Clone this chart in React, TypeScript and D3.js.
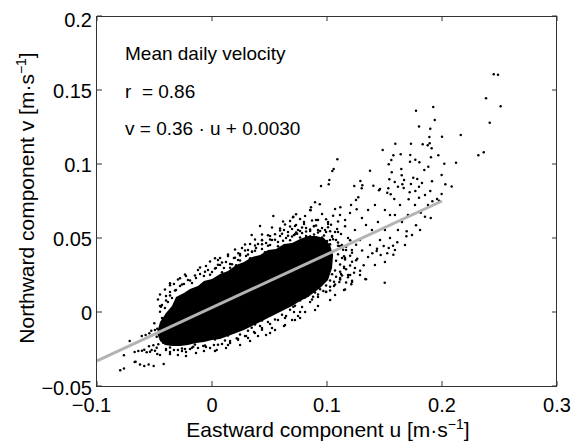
import React from 'react';
import * as d3 from 'd3';

const xTicks = [-0.1, 0, 0.1, 0.2, 0.3];
const xTickLabels = ['−0.1', '0', '0.1', '0.2', '0.3'];
const yTicks = [-0.05, 0, 0.05, 0.1, 0.15, 0.2];
const yTickLabels = ['−0.05', '0', '0.05', '0.1', '0.15', '0.2'];

const fitLine: [number, number][] = [[-0.1, -0.033], [0.2, 0.075]];
const annotations = ['Mean daily velocity', 'r  = 0.86', 'v = 0.36 · u + 0.0030'];

// outline of the region where the daily points overlap into solid black
const denseCore: [number, number][] = [
  [-0.0479, -0.0142], [-0.0452, -0.0068], [-0.04, -0.0007], [-0.0348, 0.0041], [-0.0313, 0.0101], [-0.0244, 0.0128],
  [-0.0191, 0.0155], [-0.0122, 0.0176], [-0.007, 0.021], [0.0, 0.0223], [0.007, 0.0257], [0.0139, 0.0277],
  [0.0209, 0.0318], [0.0278, 0.0338], [0.0348, 0.0372], [0.0418, 0.0385], [0.0487, 0.0419], [0.0557, 0.0426],
  [0.0626, 0.046], [0.0696, 0.0466], [0.0766, 0.0493], [0.0835, 0.0514], [0.0905, 0.0514], [0.0974, 0.05],
  [0.1027, 0.0453], [0.1053, 0.0385], [0.1044, 0.0297], [0.1009, 0.0216], [0.094, 0.0162], [0.0835, 0.0101],
  [0.0766, 0.0074], [0.0696, 0.0041], [0.0626, 0.0014], [0.0557, -0.0014], [0.0487, -0.0041], [0.0418, -0.0068],
  [0.0348, -0.0095], [0.0278, -0.0122], [0.0209, -0.0142], [0.0139, -0.0162], [0.007, -0.0183], [0.0, -0.0189],
  [-0.007, -0.0203], [-0.0139, -0.021], [-0.0209, -0.0223], [-0.0278, -0.023], [-0.0348, -0.023], [-0.0409, -0.0223],
  [-0.0452, -0.0196],
];

const sparsePoints: [number, number][] = [
  [0.245, 0.1606], [0.2487, 0.1603], [0.2383, 0.1444], [0.251, 0.139], [0.1924, 0.1385], [0.2415, 0.1279], [0.1937, 0.1297],
  [0.1898, 0.1239], [0.2163, 0.1196], [0.2, 0.1184], [0.189, 0.1182], [0.1832, 0.1133], [0.1876, 0.1126], [0.1893, 0.114],
  [0.191, 0.1106], [0.2363, 0.1079], [0.2316, 0.1059], [0.1968, 0.1059], [0.1904, 0.1045], [0.2122, 0.1009], [0.202, 0.1002],
  [0.1881, 0.0982], [0.1774, 0.136], [0.18, 0.1253], [0.1484, 0.1095], [0.1594, 0.1137], [0.173, 0.1137], [0.1641, 0.1066],
  [0.1724, 0.1061], [0.1577, 0.1059], [0.1559, 0.1027], [0.1537, 0.0998], [0.1768, 0.1029], [0.1722, 0.1016], [0.1803, 0.1011],
  [0.1846, 0.0959], [0.1563, 0.0944], [0.1646, 0.0966], [0.165, 0.0924], [0.1542, 0.0897], [0.1589, 0.0878], [0.1617, 0.0847],
  [0.1655, 0.0863], [0.173, 0.0865], [0.175, 0.0907], [0.1785, 0.0899], [0.1826, 0.0872], [0.1997, 0.0926], [0.2029, 0.0863],
  [0.2084, 0.0848], [0.18, 0.0847], [0.1768, 0.0818], [0.1898, 0.0818], [0.1997, 0.0797], [0.1461, 0.0831], [0.1524, 0.0806],
  [0.1554, 0.0795], [0.1585, 0.0764], [0.171, 0.0762], [0.18, 0.0772], [0.1957, 0.0764], [0.1916, 0.0748], [0.1815, 0.0671],
  [0.1852, 0.0644], [0.1902, 0.0635], [0.1774, 0.0586], [0.169, 0.0511], [0.1693, 0.0545], [0.1611, 0.0471], [0.1574, 0.0448],
  [0.1537, 0.0432], [0.1577, 0.0387], [0.1467, 0.0385], [0.1493, 0.0446], [0.1435, 0.0428], [0.1394, 0.0397], [0.1357, 0.0372],
  [0.1319, 0.0316], [0.1263, 0.036], [0.1502, 0.0198], [0.1339, 0.0221], [0.1211, 0.0187], [0.1107, 0.0203], [0.0968, 0.0142],
  [0.1122, 0.0257], [0.0635, 0.0032], [0.1374, 0.0955], [0.167, 0.0892], [0.1913, 0.0883], [0.129, 0.0885], [0.1237, 0.0851],
  [0.1307, 0.0856], [0.1403, 0.0853], [0.1533, 0.0836], [0.1667, 0.0838], [0.1719, 0.0809], [0.1974, 0.0752], [0.109, 0.1032],
  [0.1058, 0.0966], [0.1046, 0.0953], [0.102, 0.0892], [0.1015, 0.0863], [0.0948, 0.0851], [0.1302, 0.0836], [0.1452, 0.0822],
  [0.1272, 0.0775], [0.0896, 0.0741], [0.0861, 0.0707], [0.0858, 0.0687], [0.0937, 0.0728], [0.0704, 0.064], [0.107, 0.0696],
  [0.1116, 0.0707], [0.1209, 0.0723], [0.1252, 0.0757], [0.1258, 0.0694], [0.1333, 0.0223], [0.1524, 0.0397], [0.1432, 0.0412],
  [0.1113, 0.0655], [0.1157, 0.0622], [0.12, 0.0669], [0.1304, 0.0635], [0.1339, 0.0588], [0.1391, 0.0554], [0.1443, 0.0608],
  [0.1504, 0.0554], [0.1548, 0.05], [0.1617, 0.0554], [0.1652, 0.0608], [0.1591, 0.0655], [0.1504, 0.0689], [0.1417, 0.0723],
  [0.1357, 0.0689], [0.1243, 0.0554], [0.1183, 0.05], [0.1287, 0.0486], [0.1374, 0.0453], [0.1461, 0.0486], [0.1217, 0.0419],
  [0.113, 0.0453], [0.107, 0.0541], [0.1009, 0.0608], [0.0983, 0.0554], [0.0922, 0.0622], [0.1026, 0.0486], [0.1157, 0.0365],
  [0.1243, 0.0297], [0.1183, 0.025], [0.1287, 0.025], [0.1417, 0.0318], [0.1504, 0.0338], [0.1591, 0.0419], [0.1678, 0.0453],
  [0.1739, 0.052], [0.1809, 0.0554], [0.1704, 0.0655], [0.1765, 0.0723], [0.1878, 0.0723], [0.1852, 0.0791], [0.1635, 0.0723],
  [0.1548, 0.0655], [0.0533, 0.0649], [0.0707, 0.0644], [0.0418, 0.0581], [0.0345, 0.0521], [0.0026, 0.0363], [0.0229, 0.0397],
  [-0.0365, 0.0194], [-0.0278, 0.0228], [0.0853, 0.069],
];

const semiDensePoints: [number, number][] = [
  [0.0731, 0.066], [0.0809, 0.0649], [0.0957, 0.0662], [0.1053, 0.0651],
  [0.0679, 0.0615], [0.0766, 0.0628], [0.087, 0.0618], [0.0992, 0.0626], [0.1096, 0.0612],
  [0.0635, 0.0592], [0.0722, 0.0581], [0.08, 0.0595], [0.0905, 0.0584], [0.1035, 0.059], [0.1157, 0.058],
  [0.0592, 0.055], [0.0696, 0.0561], [0.0766, 0.0548], [0.0853, 0.0558], [0.094, 0.0547], [0.1088, 0.056],
  [0.0548, 0.0525], [0.0661, 0.0516], [0.074, 0.0528], [0.0818, 0.0514], [0.0887, 0.0524], [0.0974, 0.0517], [0.1122, 0.0527],
  [0.0505, 0.049], [0.0618, 0.0482], [0.0922, 0.0493], [0.1001, 0.048], [0.1053, 0.0491], [0.1201, 0.0484],
  [0.0435, 0.0458], [0.094, 0.0449], [0.1027, 0.0457], [0.1096, 0.0447], [0.1253, 0.0455],
  [0.0374, 0.0414], [0.0983, 0.0423], [0.1061, 0.0412], [0.114, 0.0421], [0.1305, 0.0416],
  [0.0313, 0.0389], [0.1009, 0.0381], [0.1096, 0.039], [0.1201, 0.038],
  [0.0244, 0.0348], [0.1027, 0.0356], [0.1079, 0.0346], [0.1157, 0.0355], [0.1253, 0.0349],
  [0.0174, 0.0322], [0.1009, 0.0313], [0.1114, 0.0321], [0.1201, 0.0314],
  [0.0992, 0.0288], [0.107, 0.028], [0.1166, 0.0289], [0.1288, 0.0279],
  [0.0974, 0.0246], [0.1044, 0.0255], [0.1131, 0.0247],
  [0.094, 0.022], [0.1027, 0.0212], [0.1114, 0.0219], [0.1218, 0.0211],
  [0.0896, 0.0187], [0.0992, 0.0179], [0.107, 0.0186],
  [0.087, 0.0145], [0.094, 0.0153], [0.1027, 0.0146], [0.1157, 0.0152],
  [0.0766, 0.0119], [0.0835, 0.0111], [0.0922, 0.0118],
  [0.0679, 0.0085], [0.0766, 0.0077], [0.087, 0.0084],
  [0.0609, 0.005], [0.0722, 0.0043],
  [0.0505, 0.0017], [0.0574, 0.001], [0.0679, 0.0016],
  [0.0418, -0.0016], [0.0505, -0.0024], [0.0609, -0.0018],
  [0.0331, -0.005], [0.0435, -0.0058], [0.0548, -0.0051],
  [0.0287, -0.0092], [0.0374, -0.0085],
  [0.0209, -0.0119], [0.0313, -0.0126], [0.0435, -0.012],
  [0.0139, -0.0158], [0.0244, -0.0152],
  [0.0026, -0.0186], [0.0113, -0.0193], [0.0226, -0.0187],
  [-0.0148, -0.022], [-0.0061, -0.0227], [0.0052, -0.0221],
  [-0.0365, -0.024], [-0.0261, -0.0246], [-0.0174, -0.0241],
  [0.0679, 0.0578], [0.0783, 0.0571], [0.0887, 0.0579], [0.1009, 0.0572],
  [0.0731, 0.0537], [0.0818, 0.0544], [0.0922, 0.0538], [0.1027, 0.0545],
  [0.0696, 0.051], [0.0766, 0.0503], [0.0853, 0.0511], [0.0957, 0.0504], [0.1044, 0.0509],
  [0.1096, 0.0469], [0.1166, 0.0441], [0.1218, 0.0401], [0.1148, 0.0376], [0.1218, 0.034], [0.1148, 0.0306],
  [0.1114, 0.0272], [0.1235, 0.0266], [0.1079, 0.0239], [0.1183, 0.0234], [0.1061, 0.0205], [0.1166, 0.0199],
  [0.0922, 0.0166], [0.1027, 0.0171], [0.0896, 0.0132], [0.0992, 0.0137], [0.0809, 0.0098], [0.0879, 0.0103],
];

const fringePoints: [number, number][] = [
  [-0.0017, 0.0341], [0.0087, 0.0335], [-0.0104, 0.03], [0.0026, 0.0294], [0.0157, 0.0299], [-0.0235, 0.0253],
  [-0.0148, 0.0246], [-0.0017, 0.0252], [-0.0296, 0.0219], [-0.0191, 0.0213], [-0.0365, 0.018], [-0.0261, 0.0186],
  [-0.0409, 0.0152], [-0.0322, 0.0146], [-0.0452, 0.0118], [-0.0365, 0.0112], [-0.047, 0.0084], [-0.04, 0.0078],
  [-0.0435, 0.0047], [0.02, 0.0422], [0.0287, 0.0416], [0.0139, 0.0388], [0.0244, 0.0382], [0.007, 0.0365],
  [0.0287, 0.0456], [0.0374, 0.045], [0.0374, 0.049], [0.0435, 0.0484], [0.0435, 0.0524], [0.0487, 0.0518],
  [0.0522, 0.0571], [0.0592, 0.0565], [0.0618, 0.0611], [-0.0061, 0.0272], [0.0087, 0.0268], [0.0052, 0.032],
  [0.0209, 0.0316], [0.02, 0.0367], [0.0331, 0.0363], [0.0348, 0.0408], [0.0461, 0.0404], [0.0487, 0.0448],
  [0.0574, 0.0444], [0.0548, 0.0489], [0.0679, 0.0485], [0.0609, 0.0529], [0.0722, 0.0525],
  [-0.0435, -0.0041], [-0.0409, 0.0027], [-0.0383, 0.0068], [-0.0348, 0.0095], [-0.0365, 0.0135], [-0.0313, 0.0149],
  [-0.0278, 0.0176], [-0.0244, 0.0189], [-0.0209, 0.0216], [-0.0174, 0.0196], [-0.0139, 0.023], [-0.0104, 0.0257],
  [-0.007, 0.0243], [-0.0035, 0.0284], [0.0, 0.027], [0.0035, 0.0297], [0.007, 0.0318], [0.0104, 0.0297],
  [0.0122, 0.0338], [0.0157, 0.0324], [0.0191, 0.0365], [0.0226, 0.0352], [0.0244, 0.0392], [0.0296, 0.0379],
  [0.0313, 0.0419], [0.0348, 0.0406], [0.0383, 0.0433], [0.04, 0.046], [0.0435, 0.0426], [0.047, 0.0466],
  [0.0505, 0.0453], [0.0522, 0.0487], [0.0574, 0.0473], [0.0592, 0.0514], [0.0644, 0.05], [0.0661, 0.0541],
  [0.0713, 0.0521], [0.0748, 0.0554], [0.0783, 0.0534], [0.0818, 0.0568], [0.0853, 0.0548], [0.0887, 0.0581],
  [0.0922, 0.0554], [0.0957, 0.0568], [0.0992, 0.0541], [0.1044, 0.0514], [0.1079, 0.0487], [0.1114, 0.0446],
  [-0.0226, 0.0243], [-0.0122, 0.0284], [-0.0052, 0.0311], [0.0052, 0.0352], [0.0139, 0.0379], [0.0261, 0.0433],
  [0.0331, 0.046], [0.0435, 0.0487], [0.0505, 0.0514], [0.0626, 0.0554], [0.0731, 0.0588], [0.08, 0.0608],
  [0.0905, 0.0622], [0.1009, 0.0595], [0.1096, 0.0541], [-0.0331, 0.0189], [-0.04, 0.0108], [-0.0452, 0.0041],
  [-0.0076, -0.023], [0.0041, -0.0257], [0.0215, -0.0178], [0.0345, -0.0106], [-0.0163, -0.0235], [0.0563, 0.0002],
  [0.0707, 0.0036], [0.0139, -0.0223], [0.0287, -0.0162], [0.0418, -0.0095], [0.0487, -0.0068], [0.0635, -0.0041],
  [0.0766, 0.0], [-0.0017, -0.0243], [-0.0235, -0.025], [0.0157, -0.021], [0.0313, -0.0176], [0.0374, -0.0142],
  [0.0505, -0.0142], [0.0522, -0.0108], [0.0635, -0.0088], [0.0696, -0.0054], [0.0748, -0.0027], [0.0809, 0.0],
  [-0.04, -0.025], [-0.0331, -0.0257], [-0.0261, -0.0264], [-0.0191, -0.025], [-0.0122, -0.0243], [-0.0052, -0.0237],
  [0.0017, -0.0223], [0.0087, -0.0216], [0.0157, -0.0196], [0.0226, -0.0183], [0.0296, -0.0162], [0.0365, -0.0135],
  [0.0435, -0.0108], [0.0505, -0.0081], [0.0574, -0.0054], [0.0644, -0.0027], [0.0713, 0.0], [0.0783, 0.0034],
  [0.0853, 0.0068], [0.0922, 0.0101], [0.0992, 0.0135], [0.1061, 0.0176], [0.1114, 0.023], [0.1148, 0.0297],
  [0.1131, 0.0365], [0.1166, 0.0419],
  [-0.0296, -0.0291], [-0.0139, -0.0277], [0.0026, -0.0264], [0.0244, -0.0223], [0.04, -0.0162], [0.0548, -0.0122],
  [0.0722, -0.0054], [0.0896, 0.0014], [0.107, 0.0115], [0.1218, 0.0203],
  [-0.0365, -0.0284], [-0.0226, -0.0297], [-0.007, -0.0264], [0.0122, -0.0243], [0.0331, -0.0196], [0.047, -0.0155],
  [0.0626, -0.0095], [0.0766, -0.0041], [0.0922, 0.0041], [0.1027, 0.0081], [0.1148, 0.0149], [0.1201, 0.025],
];

const tailPoints: [number, number][] = [
  [-0.0798, -0.0394], [-0.0766, -0.0381], [-0.0716, -0.0196], [-0.0673, -0.0338], [-0.0766, -0.0293], [-0.0673, -0.027],
  [-0.0641, -0.0264], [-0.0589, -0.0365], [-0.0551, -0.0354], [-0.0507, -0.0365], [-0.042, -0.0352], [-0.0476, -0.0284],
  [-0.0609, -0.0262], [-0.0589, -0.0255], [-0.0568, -0.0272], [-0.0539, -0.0268], [-0.0525, -0.0257], [-0.0496, -0.0262],
  [-0.0481, -0.0241], [-0.0548, -0.0232], [-0.051, -0.0225], [-0.0467, -0.0218], [-0.0424, -0.0208], [-0.0437, -0.0189],
  [-0.0611, -0.0162], [-0.0577, -0.0155], [-0.0545, -0.0144], [-0.0528, -0.0126], [-0.0496, -0.0122], [-0.0476, -0.0113],
  [-0.0452, 0.0002], [-0.0443, 0.0036], [-0.0664, -0.0336], [-0.0626, -0.0354], [-0.0502, -0.0076], [-0.0481, -0.0167],
  [-0.0452, -0.0291], [-0.04, -0.0257], [-0.0365, -0.027], [-0.0296, -0.0257], [-0.0226, -0.027],
];

const FONT = "'Liberation Sans', Arial, Helvetica, sans-serif";

export default function App() {
  const left = 97, right = 557, top = 16, bottom = 386;
  const x = d3.scaleLinear().domain([-0.1, 0.3]).range([left, right]);
  const y = d3.scaleLinear().domain([-0.05, 0.2]).range([bottom, top]);
  const allPts = [...sparsePoints, ...semiDensePoints, ...fringePoints, ...tailPoints];
  const corePath = d3
    .line<[number, number]>()
    .x((d) => x(d[0]))
    .y((d) => y(d[1]))
    .curve(d3.curveLinearClosed)(denseCore) as string;
  const fitPath = d3
    .line<[number, number]>()
    .x((d) => x(d[0]))
    .y((d) => y(d[1]))(fitLine) as string;
  const tickLen = 5;
  const axisColor = '#333';

  return (
    <svg
      width={574}
      height={443}
      style={{ position: 'absolute', left: 0, top: 0, background: '#fff' }}
      fontFamily={FONT}
    >
      <rect x={0} y={0} width={574} height={443} fill="#fff" />
      <path d={corePath} fill="#000" />
      {allPts.map((p, i) => (
        <circle key={i} cx={x(p[0])} cy={y(p[1])} r={1.25} fill="#000" />
      ))}
      <path d={fitPath} stroke="#b3b3b3" strokeWidth={3} fill="none" />
      <rect
        x={left - 0.5}
        y={top + 0.5}
        width={right - left}
        height={bottom - top}
        fill="none"
        stroke={axisColor}
        strokeWidth={1}
      />
      {xTicks.map((t, i) => (
        <g key={'xt' + i}>
          <line x1={x(t)} x2={x(t)} y1={bottom} y2={bottom - tickLen} stroke={axisColor} />
          <line x1={x(t)} x2={x(t)} y1={top} y2={top + tickLen} stroke={axisColor} />
          <text
            x={x(t) - (t < 0 ? 5.5 : 0)}
            y={405}
            dy="0.35em"
            textAnchor="middle"
            fontSize={20}
            fill="#000"
          >
            {xTickLabels[i]}
          </text>
        </g>
      ))}
      {yTicks.map((t, i) => (
        <g key={'yt' + i}>
          <line x1={left} x2={left + tickLen} y1={y(t)} y2={y(t)} stroke={axisColor} />
          <line x1={right} x2={right - tickLen} y1={y(t)} y2={y(t)} stroke={axisColor} />
          <text
            x={92}
            y={y(t) + (i === 0 ? 1.5 : i === yTicks.length - 1 ? 3.5 : 1)}
            dy="0.35em"
            textAnchor="end"
            fontSize={20}
            fill="#000"
          >
            {yTickLabels[i]}
          </text>
        </g>
      ))}
      {annotations.map((a, i) => (
        <text
          key={'an' + i}
          x={125}
          y={60 + i * 37.5}
          fontSize={19}
          fill="#000"
          style={{ whiteSpace: 'pre' }}
        >
          {a}
        </text>
      ))}
      <text x={(left + right) / 2 + 1} y={437} textAnchor="middle" fontSize={21} fill="#000">
        Eastward component u [m·s
        <tspan fontSize={14} dy={-8}>−1</tspan>
        <tspan dy={8}>]</tspan>
      </text>
      <text
        transform={`translate(33.5, ${(top + bottom) / 2 - 3}) rotate(-90)`}
        textAnchor="middle"
        fontSize={21}
        fill="#000"
      >
        Northward component v [m·s
        <tspan fontSize={14} dy={-8}>−1</tspan>
        <tspan dy={8}>]</tspan>
      </text>
    </svg>
  );
}
